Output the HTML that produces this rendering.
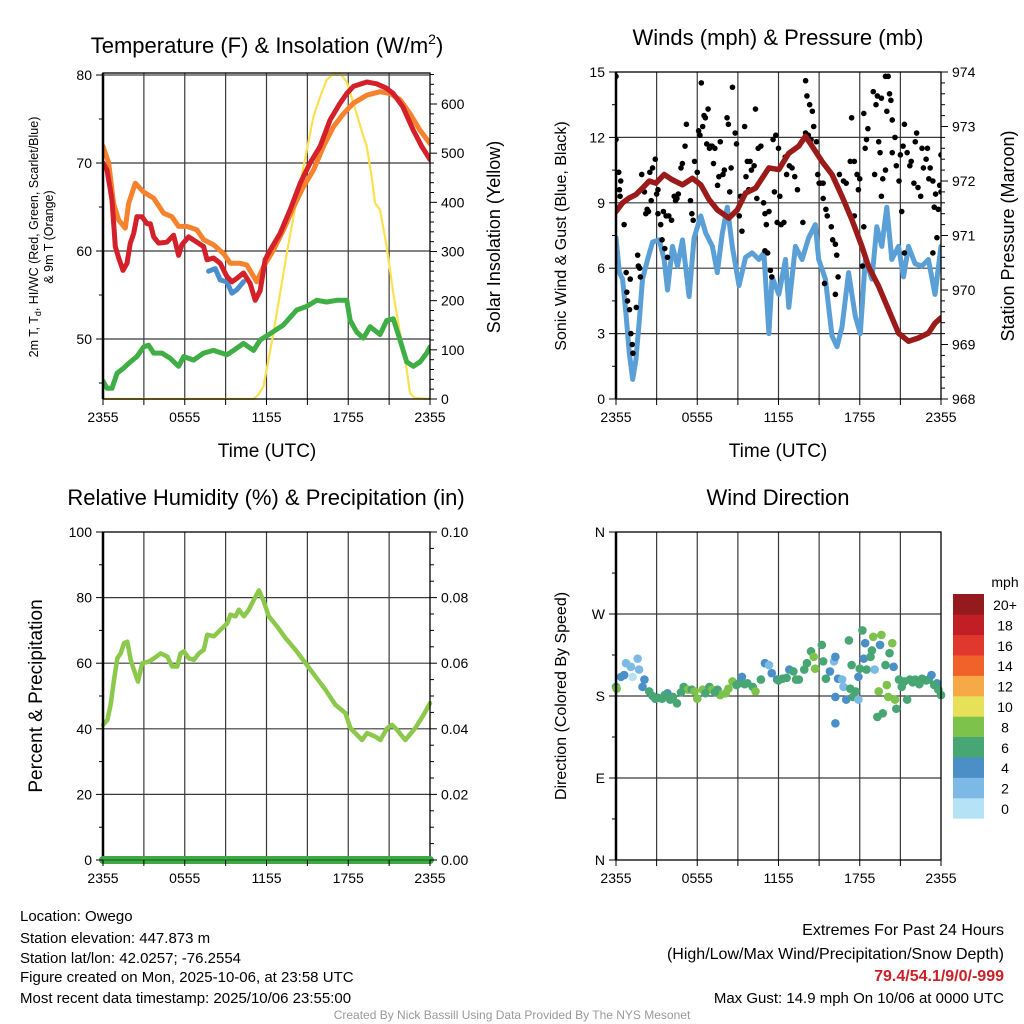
<!DOCTYPE html>
<html><head><meta charset="utf-8"><title>Owego Mesonet Meteogram</title>
<style>
html,body{margin:0;padding:0;background:#fff;}
svg{display:block;font-family:"Liberation Sans",Arial,sans-serif;}
</style></head>
<body>
<svg id="chart" width="1024" height="1024" viewBox="0 0 1024 1024" xmlns="http://www.w3.org/2000/svg">
<rect x="0" y="0" width="1024" height="1024" fill="#fff"/>
<text x="267" y="53" font-size="22" text-anchor="middle">Temperature (F) &amp; Insolation (W/m<tspan font-size="14" dy="-9">2</tspan><tspan dy="9">)</tspan></text>
<text x="778" y="45" font-size="22" text-anchor="middle">Winds (mph) &amp; Pressure (mb)</text>
<text x="266" y="505" font-size="22" text-anchor="middle">Relative Humidity (%) &amp; Precipitation (in)</text>
<text x="778" y="505" font-size="22" text-anchor="middle">Wind Direction</text>

<text transform="translate(38,237) rotate(-90)" font-size="12.5" text-anchor="middle">2m T, T<tspan font-size="9" dy="3">d</tspan><tspan dy="-3">, HI/WC (Red, Green, Scarlet/Blue)</tspan></text>
<text transform="translate(53,237) rotate(-90)" font-size="12.5" text-anchor="middle">&amp; 9m T (Orange)</text>
<text transform="translate(500,237) rotate(-90)" font-size="18" text-anchor="middle">Solar Insolation (Yellow)</text>
<text transform="translate(566,236) rotate(-90)" font-size="16" text-anchor="middle">Sonic Wind &amp; Gust (Blue, Black)</text>
<text transform="translate(1014,236) rotate(-90)" font-size="18" text-anchor="middle">Station Pressure (Maroon)</text>
<text transform="translate(42,696) rotate(-90)" font-size="19" text-anchor="middle">Percent &amp; Precipitation</text>
<text transform="translate(566,696) rotate(-90)" font-size="16" text-anchor="middle">Direction (Colored By Speed)</text>
<text x="267" y="457" font-size="19" text-anchor="middle">Time (UTC)</text>
<text x="778" y="457" font-size="19" text-anchor="middle">Time (UTC)</text>

<g font-size="15">
<text x="20" y="921">Location: Owego</text>
<text x="20" y="943">Station elevation: 447.873 m</text>
<text x="20" y="963">Station lat/lon: 42.0257; -76.2554</text>
<text x="20" y="982">Figure created on Mon, 2025-10-06, at 23:58 UTC</text>
<text x="20" y="1003">Most recent data timestamp: 2025/10/06 23:55:00</text>
</g>
<g font-size="15" text-anchor="end">
<text x="1004" y="935" font-size="16">Extremes For Past 24 Hours</text>
<text x="1004" y="959" font-size="16">(High/Low/Max Wind/Precipitation/Snow Depth)</text>
<text x="1004" y="981" font-size="16" font-weight="bold" fill="#cc1f27">79.4/54.1/9/0/-999</text>
<text x="1004" y="1003">Max Gust: 14.9 mph On 10/06 at 0000 UTC</text>
</g>
<text x="512" y="1019" font-size="12" fill="#999" text-anchor="middle">Created By Nick Bassill Using Data Provided By The NYS Mesonet</text>
</svg>
<script>
// ---------- data ----------
var xTickHours = [0, 6, 12, 18, 24];
var xTickLabels = ["2355", "0555", "1155", "1755", "2355"];

var tempTimes = [0,0.29,0.66,0.90,1.15,1.47,1.76,2.0,2.25,2.49,2.86,3.23,3.47,3.72,4.08,4.69,5.18,5.55,5.79,6.28,6.89,7.38,7.63,8.11,8.6,9.09,9.46,9.83,10.31,10.8,11.17,11.54,11.9,12.27,13.0,13.74,14.47,15.2,15.94,16.67,17.4,17.89,18.38,19.36,20.09,20.8,21.3,22.0,22.78,23.39,24];
var tempValues = [70,69.2,65.8,60.5,59.2,57.8,58.6,60.9,62,63.9,63.9,63.1,63.1,61.6,60.9,61,61.8,59.5,60.7,61.6,61,60.5,59,59.2,58.6,57.1,56.5,56.9,57.5,56.3,54.4,55.5,59,60.1,62,64.7,67.7,70,71.9,74.9,76.8,77.9,78.7,79.2,79,78.5,77.9,76.4,73.7,71.9,70.4];
var temp9mTimes = [0,0.42,0.78,1.15,1.64,1.88,2.37,2.98,3.72,4.45,5.06,5.55,6.16,6.89,7.38,8.11,8.85,9.34,10.07,10.56,11.05,11.29,11.78,12.51,13.25,13.98,14.71,15.45,16.18,16.91,17.65,18.38,19.36,20.33,21.07,21.8,22.53,23.27,24];
var temp9mValues = [71.9,70,65.4,63.5,62.6,65.4,67.7,66.7,66,64.3,63.9,62.8,62.8,62.4,61.3,60.7,59.7,58.6,58.6,58.4,57.1,56.5,58.2,60.1,62.4,65,67.3,69.2,71.9,74.1,75.6,76.8,77.7,78.1,77.9,77.2,75.6,73.7,72.2];
var windChillTimes = [7.75,8.24,8.6,9.09,9.46,9.83,10.31];
var windChillValues = [57.7,58,56.7,56.5,55.2,55.6,56.5];
var dewTimes = [0,0.29,0.66,1.03,1.52,2.0,2.49,2.98,3.35,3.72,4.33,4.94,5.55,5.92,6.65,7.38,8.11,9.09,9.58,10.31,11.05,11.54,12.27,13.25,14.22,14.96,15.69,16.42,17.16,17.89,18.14,18.62,19.11,19.6,20.33,20.82,21.31,21.8,22.29,22.78,23.27,23.76,24];
var dewValues = [45.2,44.4,44.4,46.1,46.7,47.4,48,49.1,49.3,48.4,48.4,47.8,46.9,48,47.6,48.4,48.7,48.2,48.7,49.5,48.7,49.9,50.6,51.6,53.3,53.7,54.4,54.2,54.4,54.4,52.1,50.8,50.1,51.4,50.5,52.1,52.3,49.9,47.4,46.9,47.4,48.4,49.1];
var solarTimes = [0,11.05,11.41,11.78,12.15,12.51,13.0,13.49,13.98,14.47,14.96,15.45,15.94,16.42,16.91,17.4,17.89,18.38,19.11,19.36,19.72,19.97,20.33,20.82,21.31,21.8,22.29,22.53,22.9,24];
var solarValues = [0,0,9,26,80,134,215,297,371,439,506,575,615,649,662,662,645,602,534,513,452,398,385,310,215,134,60,12,2,0];

var windTimes = [0,0.25,0.49,0.74,0.98,1.23,1.47,1.72,1.96,2.33,2.70,3.19,3.56,3.80,4.17,4.54,4.91,5.40,5.77,6.26,6.63,7.12,7.48,7.85,8.22,8.59,9.08,9.57,10.06,10.55,10.92,11.29,11.53,12.02,12.52,12.76,13.25,13.74,14.23,14.72,14.97,15.46,15.95,16.32,16.69,17.18,17.67,18.04,18.41,18.90,19.26,19.63,20.0,20.37,20.86,21.23,21.6,22.09,22.58,23.07,23.56,24];
var windValues = [7.4,5.8,5.5,3.9,2.1,0.9,1.8,3.6,5.5,6.4,7.2,7.3,6.4,5.0,7.0,6.1,7.3,4.7,7.4,8.4,7.6,7.0,5.8,7.6,8.8,7.0,5.2,6.5,6.7,6.4,6.7,3.0,5.6,4.8,6.4,4.2,7.0,6.4,7.4,8.0,6.4,5.5,2.9,2.4,3.3,5.8,3.8,3.0,6.4,5.5,7.9,7.0,8.8,6.4,7.0,5.6,7.0,6.2,6.1,6.4,4.8,7.0];
var gustTimes = [0,0,0.2,0.25,0.3,0.35,0.6,0.75,0.8,0.85,1.0,1.05,1.1,1.2,1.25,1.5,1.6,1.65,1.75,1.8,1.9,2.1,2.3,2.4,2.5,2.7,2.9,3.0,2.2,2.6,3.1,3.1,3.3,3.4,3.6,3.8,3.5,3.9,4.1,4.3,4.4,4.5,4.6,4.9,4.8,5.1,5.2,3.7,5.5,5.6,5.7,5.8,6.1,6.2,6.3,6.4,6.5,6.6,6.8,6.7,6.9,7.0,7.1,7.3,7.2,6.0,7.5,7.6,7.7,8.2,8.3,8.6,8.8,8.9,8.5,8.0,7.9,8.4,9.1,9.3,9.2,9.6,9.7,9.9,9.5,10.0,10.2,10.5,10.3,10.7,9.8,10.4,10.9,11.0,11.1,11.3,11.6,11.8,12.0,11.7,12.1,11.0,11.2,11.4,11.5,12.2,12.4,11.9,12.6,12.8,12.5,13.0,13.2,13.4,13.8,14.0,14.2,14.0,14.1,14.3,14.5,14.6,14.4,14.8,15.0,15.1,15.3,14.9,15.3,15.5,15.6,15.9,16.0,16.2,16.3,16.4,16.2,16.5,16.8,15.4,17.4,17.3,17.6,17.8,18.0,17.9,17.6,18.3,18.2,18.4,18.5,18.6,18.3,17.0,19.0,19.3,19.6,19.2,19.5,19.1,19.7,19.9,19.4,19.6,19.9,20.1,20.2,20.3,20.0,20.4,20.6,20.4,20.7,20.9,21.1,21.0,21.3,21.3,21.5,21.2,21.8,21.7,22.0,22.3,22.5,22.2,22.6,23.0,22.9,23.2,23.1,23.4,23.6,23.5,23.8,24.0,23.9,24.0,23.7,23.4,22.7,22.1];
var gustValues = [14.8,11.9,10.4,9.6,9.3,10.0,8.0,5.8,4.9,4.5,4.1,5.5,3.0,2.5,2.1,4.2,6.6,6.1,6.0,5.6,10.3,9.5,8.7,8.6,10.4,10.6,11.0,9.4,8.5,9.1,9.6,8.5,8.0,7.3,6.9,6.5,8.6,8.4,8.2,9.3,9.1,9.2,9.4,10.8,10.6,11.6,12.6,8.4,9.1,8.5,8.2,10.9,12.3,12.1,14.5,12.5,13.0,12.9,13.3,11.7,11.5,11.6,11.6,11.5,10.8,10.4,9.8,10.2,11.8,12.9,12.6,14.3,12.2,11.7,10.6,10.5,10.3,9.5,8.4,7.7,9.3,10.2,10.9,10.9,12.5,10.5,10.7,11.5,13.3,11.6,9.6,9.2,9.0,8.5,8.0,8.6,11.9,12.1,11.5,9.5,9.3,6.8,6.7,5.9,5.6,8.0,8.1,8.1,10.3,10.7,11.1,10.6,10.2,9.6,8.1,12.2,12.1,14.6,13.9,13.5,13.2,12.5,11.9,11.8,9.9,9.9,9.9,10.3,9.2,8.7,8.4,7.9,7.3,7.1,6.6,5.6,4.8,10.3,10.0,5.3,12.9,10.9,10.9,10.3,10.1,9.6,8.4,7.9,6.1,11.5,11.9,12.4,13.1,9.9,14.1,13.9,13.8,13.5,11.3,10.3,10.1,10.5,11.8,9.3,14.8,14.8,14.0,13.7,13.2,12.8,12.0,11.3,10.7,10.0,8.6,11.2,6.7,12.6,11.3,11.6,10.9,10.7,9.9,9.7,9.3,12.2,11.5,11.5,11.0,10.6,10.1,10.0,9.4,8.8,8.7,11.2,9.8,9.5,7.4,6.7,10.6,11.8];
var pressTimes = [0,0.49,0.98,1.47,1.96,2.45,2.94,3.56,4.17,4.91,5.64,6.26,6.87,7.48,8.34,8.96,9.57,10.31,11.29,12.02,12.76,13.5,13.99,14.48,15.21,15.95,16.69,17.42,18.16,18.65,19.39,20.12,20.86,21.6,22.33,23.07,23.56,24];
var pressValues = [971.44,971.6,971.69,971.75,971.87,972.0,971.96,972.12,972.02,971.93,972.05,971.93,971.66,971.47,971.32,971.47,971.78,971.87,972.24,972.21,972.51,972.64,972.82,972.64,972.36,972.12,971.72,971.29,970.8,970.43,970.07,969.64,969.21,969.06,969.12,969.21,969.39,969.49];

var rhTimes = [0,0.32,0.56,0.81,1.05,1.3,1.54,1.78,2.03,2.27,2.57,2.88,3.37,3.74,4.23,4.72,5.08,5.45,5.69,5.94,6.3,6.67,7.04,7.4,7.65,8.14,8.63,9.12,9.36,9.73,9.97,10.34,10.7,11.07,11.44,11.8,12.17,12.78,13.39,14.13,14.86,15.59,16.33,17.06,17.79,18.16,18.65,19.01,19.38,20.0,20.36,20.85,21.21,21.58,22.19,22.92,23.54,24];
var rhValues = [41.2,42.7,47.3,54.9,61.5,63,66.1,66.6,61,58,54.4,60,60.5,61.5,63,62,59,59,63,63.6,61.5,61,63,64.1,68.7,68.2,70.2,72.2,74.8,74.3,76.3,74.3,76.3,79.3,82.2,78.8,74.3,71.2,67.7,64.1,60,56,51.9,47.3,44.8,40.2,38.1,36.6,38.7,37.6,36.6,40.2,41.2,39.7,36.6,40.2,44.3,47.8];
var precipTimes = [0, 24];
var precipValues = [0, 0];

var dirTimes = [0,0.05,0.37,0.6,0.74,1.1,1.23,1.6,1.7,1.96,2.1,2.45,2.9,3.4,3.8,4.2,4.5,5.0,5.3,5.6,6.0,6.4,6.9,7.1,7.5,7.7,8.1,8.6,9.1,9.3,9.7,10.1,10.3,10.7,11.0,11.3,11.5,11.9,12.3,12.8,13.1,13.5,13.9,14.1,14.4,14.6,14.7,15.2,15.3,15.5,15.8,16.1,16.2,16.2,16.2,16.4,16.7,16.8,17.0,17.2,17.3,17.4,17.5,17.7,17.9,17.9,18.0,18.2,18.3,18.4,18.5,18.8,18.9,19.0,19.1,19.3,19.4,19.5,19.6,19.7,19.9,20.0,20.1,20.2,20.4,20.5,20.6,20.7,20.9,21.1,21.5,21.7,22.1,22.6,23.1,23.3,23.7,23.8,24,2.7,3.1,3.6,4.0,4.8,5.8,6.6,7.3,8.3,8.9,9.5,12.0,12.6,13.3,21.3,21.9,22.4,22.9,23.5];
var dirValues = [190,188,201,203,216,212,201,221,209,190,198,185,177,177,183,179,172,190,187,187,177,187,190,187,187,181,183,196,194,201,194,190,185,198,216,214,205,198,199,209,207,198,209,216,229,223,210,236,218,199,207,218,223,179,150,199,198,190,176,241,188,214,179,185,176,201,210,252,221,238,209,223,230,245,209,157,185,236,247,161,214,192,179,227,238,212,176,166,198,190,176,198,198,199,198,203,194,187,181,180,178,181,176,184,185,183,184,188,192,193,197,200,198,196,195,193,197,192];
var dirSpeeds = [6,8,4,4,2,2,1,2,2,4,4,6,6,6,4,6,6,6,8,6,8,8,6,8,6,8,8,8,6,4,6,6,8,6,4,2,4,4,6,4,6,6,6,6,6,8,8,6,6,6,4,2,4,4,4,4,2,2,4,6,6,6,6,6,2,4,6,6,4,4,6,6,6,8,2,6,8,4,8,6,6,8,8,6,8,4,8,6,6,6,6,6,6,6,6,4,4,6,6,6,6,6,6,6,8,6,6,8,6,6,6,6,6,6,6,6,6,6];
var dirTickLabels = ["N", "E", "S", "W", "N"];
var speedBins = [0, 2, 4, 6, 8, 10, 12, 14, 16, 18, 20];
var speedBinLabels = ["0", "2", "4", "6", "8", "10", "12", "14", "16", "18", "20+"];
var speedColors = ["#b6e2f6","#7db9e5","#4a8fc8","#47a673","#7dc24a","#e7e15a","#f6a947","#f1622b","#e1382d","#c21e26","#951a1d"];

// ---------- helpers ----------
var NS = "http://www.w3.org/2000/svg";
var svg = document.getElementById("chart");
function mk(tag, attrs, parent) {
  var e = document.createElementNS(NS, tag);
  for (var k in attrs) e.setAttribute(k, attrs[k]);
  (parent || svg).appendChild(e);
  return e;
}
function lin(d0, d1, r0, r1) { return function (v) { return r0 + (v - d0) * (r1 - r0) / (d1 - d0); }; }

function makePanel(name, x0, x1, y0, y1) {
  var g = mk("g", {});
  
  
  return { g: g, x0: x0, x1: x1, y0: y0, y1: y1, x: lin(0, 24, x0, x1) };
}
function grid(p, yScale, majors) {
  for (var h = 3; h < 24; h += 3) {
    var l = mk("line", {x1: p.x(h), x2: p.x(h), y1: p.y0, y2: p.y1, stroke: "#3a3a3a", "stroke-width": 1.2}, p.g);
    
    
  }
  majors.forEach(function (v) {
    var y = yScale(v);
    if (y <= p.y0 + 0.5 || y >= p.y1 - 0.5) return;
    var l = mk("line", {x1: p.x0, x2: p.x1, y1: y, y2: y, stroke: "#3a3a3a", "stroke-width": 1.2}, p.g);
    
    
  });
}
function frame(p) {
  var r = mk("rect", {x: p.x0, y: p.y0, width: p.x1 - p.x0, height: p.y1 - p.y0, fill: "none", stroke: "#000", "stroke-width": 1.3}, p.g);
  
  
  var l = mk("line", {x1: p.x0, x2: p.x0, y1: p.y0, y2: p.y1, stroke: "#000", "stroke-width": 2.5}, p.g);
  
  
}
function xAxis(p) {
  for (var h = 0; h <= 24; h += 3) {
    var t = mk("line", {x1: p.x(h), x2: p.x(h), y1: p.y1, y2: p.y1 + 6, stroke: "#000", "stroke-width": 1}, p.g);
    
    
  }
  xTickHours.forEach(function (h, i) {
    var t = mk("text", {x: p.x(h), y: p.y1 + 23, "font-size": 14, "text-anchor": "middle"}, p.g);
    t.textContent = xTickLabels[i];
    
    
  });
}
function yAxis(p, scale, side, lo, hi, major, minor, fmt, labels) {
  var xe = side === "left" ? p.x0 : p.x1, dir = side === "left" ? -1 : 1;
  var n = Math.round((hi - lo) / minor);
  for (var i = 0; i <= n; i++) {
    var v = lo + i * minor;
    var y = scale(v);
    if (y < p.y0 - 1 || y > p.y1 + 1) continue;
    var isMajor = Math.abs((v - lo) / major - Math.round((v - lo) / major)) < 1e-6;
    var t = mk("line", {x1: xe, x2: xe + dir * (isMajor ? 7 : 4), y1: y, y2: y, stroke: "#000", "stroke-width": 1}, p.g);
    
    
    if (isMajor) {
      var tx = mk("text", {x: xe + dir * 11, y: y + 5, "font-size": 14, "text-anchor": side === "left" ? "end" : "start"}, p.g);
      tx.textContent = labels ? labels[Math.round((v - lo) / major)] : fmt(v);
      
      
    }
  }
}
function pathD(times, vals, xs, ys) {
  var d = "";
  for (var i = 0; i < times.length; i++) d += (i ? "L" : "M") + xs(times[i]).toFixed(1) + "," + ys(vals[i]).toFixed(1);
  return d;
}
function line(p, times, vals, ys, color, w, name) {
  var e = mk("path", {d: pathD(times, vals, p.x, ys), fill: "none", stroke: color, "stroke-width": w, "stroke-linejoin": "round", "stroke-linecap": "round"}, p.g);
  
  
  return e;
}
function clip(p, id) {
  var c = mk("clipPath", {id: id});
  mk("rect", {x: p.x0, y: p.y0 - 1, width: p.x1 - p.x0, height: p.y1 - p.y0 + 2}, c);
}

// ---------- panel 1: temperature ----------
var p1 = makePanel("temperature-panel", 103, 430, 73, 399);
var tY = lin(80, 70, 75, 163);
var sY = lin(0, 600, 399, 104);
grid(p1, tY, [80, 70, 60, 50]);
clip(p1, "c1");
var g1 = mk("g", {"clip-path": "url(#c1)"}, p1.g);


var p1c = {g: g1, x: p1.x};
line(p1c, solarTimes, solarValues, sY, "#fbe14f", 2.2, "solar-insolation-line");
line(p1c, dewTimes, dewValues, tY, "#3fae45", 5, "dewpoint-line");
line(p1c, temp9mTimes, temp9mValues, tY, "#f7822d", 5, "temperature-9m-line");
line(p1c, windChillTimes, windChillValues, tY, "#4a8fcd", 5, "windchill-line");
line(p1c, tempTimes, tempValues, tY, "#d3202a", 5, "temperature-2m-line");
frame(p1);
var dbl = mk("line", {x1: 103, x2: 430, y1: 75, y2: 75, stroke: "#444", "stroke-width": 1}, p1.g);


xAxis(p1);
yAxis(p1, tY, "left", 40, 80, 10, 5, function (v) { return v; });
yAxis(p1, sY, "right", 0, 660, 100, 20, function (v) { return v; });

// ---------- panel 2: wind ----------
var p2 = makePanel("wind-panel", 616, 941, 72, 399);
var wY = lin(0, 15, 399, 72);
var pY = lin(968, 974, 399, 72);
grid(p2, wY, [3, 6, 9, 12]);
clip(p2, "c2");
var g2 = mk("g", {"clip-path": "url(#c2)"}, p2.g);


var p2c = {g: g2, x: p2.x};
line(p2c, windTimes, windValues, wY, "#5a9fd6", 5, "sonic-wind-line");
for (var i = 0; i < gustTimes.length; i++) {
  var c = mk("circle", {cx: p2.x(gustTimes[i]), cy: wY(gustValues[i]), r: 2.8, fill: "#000"}, g2);
  
  
}
line(p2c, pressTimes, pressValues, pY, "#9b1b1b", 5.5, "pressure-line");
frame(p2);
xAxis(p2);
yAxis(p2, wY, "left", 0, 15, 3, 1.5, function (v) { return v; });
yAxis(p2, pY, "right", 968, 974, 1, 0.2, function (v) { return Math.round(v); });

// ---------- panel 3: humidity ----------
var p3 = makePanel("humidity-panel", 103, 430, 532, 860);
var rY = lin(0, 100, 860, 532);
var prY = lin(0, 0.1, 860, 532);
grid(p3, rY, [20, 40, 60, 80]);
line(p3, rhTimes, rhValues, rY, "#8cc84b", 4.5, "relative-humidity-line");
frame(p3);
line(p3, precipTimes, precipValues, prY, "#3ea844", 8, "precipitation-line");
var pl = mk("line", {x1: 103, x2: 430, y1: 860, y2: 860, stroke: "#1a5a1a", "stroke-width": 1}, p3.g);


xAxis(p3);
yAxis(p3, rY, "left", 0, 100, 20, 10, function (v) { return v; });
yAxis(p3, prY, "right", 0, 0.1, 0.02, 0.005, function (v) { return v.toFixed(2); });

// ---------- panel 4: direction ----------
var p4 = makePanel("direction-panel", 616, 941, 532, 860);
var dY = lin(0, 360, 860, 532);
grid(p4, dY, [90, 180, 270]);
function speedColor(s) {
  var idx = 0;
  for (var k = 0; k < speedBins.length; k++) if (s >= speedBins[k]) idx = k;
  return speedColors[idx];
}
for (var j = 0; j < dirTimes.length; j++) {
  var d = mk("circle", {cx: p4.x(dirTimes[j]), cy: dY(dirValues[j]), r: 4.3, fill: speedColor(dirSpeeds[j])}, p4.g);
  
  
}
frame(p4);
xAxis(p4);
yAxis(p4, dY, "left", 0, 360, 90, 45, null, dirTickLabels);

// colorbar
var cb = mk("g", {});


var cbTop = 594, cbH = 20.4;
var mt = mk("text", {x: 1005, y: 587, "font-size": 14, "text-anchor": "middle"}, cb);
mt.textContent = "mph";


for (var b = 0; b < speedBins.length; b++) {
  var row = speedBins.length - 1 - b;
  var rr = mk("rect", {x: 953, y: cbTop + row * cbH, width: 31, height: cbH + 0.3, fill: speedColors[b]}, cb);
  
  
  var lt = mk("text", {x: 1005, y: cbTop + row * cbH + 16, "font-size": 14, "text-anchor": "middle"}, cb);
  lt.textContent = speedBinLabels[b];
  
  
}
</script>
</body></html>
